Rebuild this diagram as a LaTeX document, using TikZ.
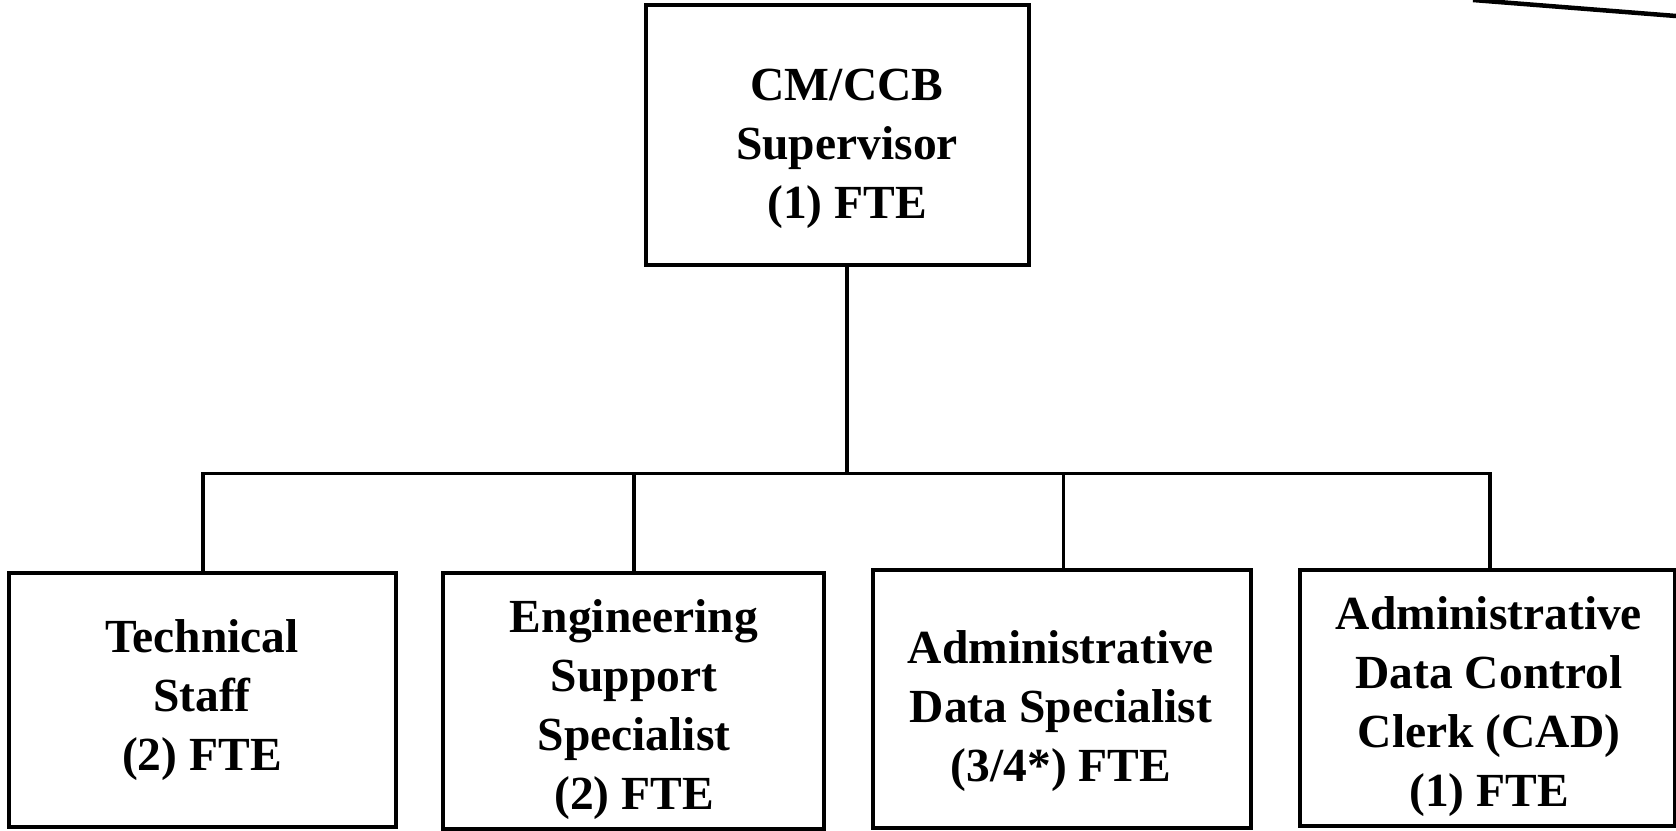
\documentclass[tikz,border=0pt]{standalone}
\usepackage{fontspec}
\setmainfont{Liberation Serif}
\begin{document}
\begin{tikzpicture}[x=1pt,y=-1pt,
  box/.style={draw,line width=4pt,inner sep=0pt},
  lbl/.style={font=\bfseries\fontsize{47.5}{59}\selectfont,align=center,inner sep=0pt},
  conn/.style={line width=3.5pt}]
\useasboundingbox (0,0) rectangle (1676,830);
% boxes
\node[box,minimum width=383pt,minimum height=260pt] (sup) at (837.5,135) {};
\node[box,minimum width=387pt,minimum height=254pt] (b1) at (202.5,700) {};
\node[box,minimum width=381pt,minimum height=256pt] (b2) at (633,701) {};
\node[box,minimum width=378pt,minimum height=258pt] (b3) at (1062,699) {};
\node[box,minimum width=375pt,minimum height=256pt] (b4) at (1487.5,698) {};
% labels
\node[lbl] (tsup) at (847,149) {CM/CCB\\Supervisor\\(1) FTE};
\node[lbl] (t1) at (202,700) {Technical\\Staff\\(2) FTE};
\node[lbl] (t2) at (634,710) {Engineering\\Support\\Specialist\\(2) FTE};
\node[lbl] (t3) at (1061,711) {Administrative\\Data Specialist\\(3/4*) FTE};
\node[lbl] (t4) at (1489,707) {Administrative\\Data Control\\Clerk (CAD)\\(1) FTE};
% connectors
\coordinate (bus) at (847,473.5);
\coordinate (d1) at (203,473.5);
\coordinate (d2) at (634,473.5);
\coordinate (d3) at (1063.5,473.5);
\coordinate (d4) at (1490,473.5);
\draw[conn] (sup.south -| bus) -- (bus);
\draw[conn,line cap=rect] (d1) -- (d4);
\draw[conn] (d1) -- (b1.north -| d1);
\draw[conn] (d2) -- (b2.north -| d2);
\draw[conn] (d3) -- (b3.north -| d3);
\draw[conn] (d4) -- (b4.north -| d4);
\coordinate (e1) at (1473,0);
\coordinate (e2) at (1676,16);
\draw[line width=4.5pt] (e1) -- (e2);
\end{tikzpicture}
\end{document}
